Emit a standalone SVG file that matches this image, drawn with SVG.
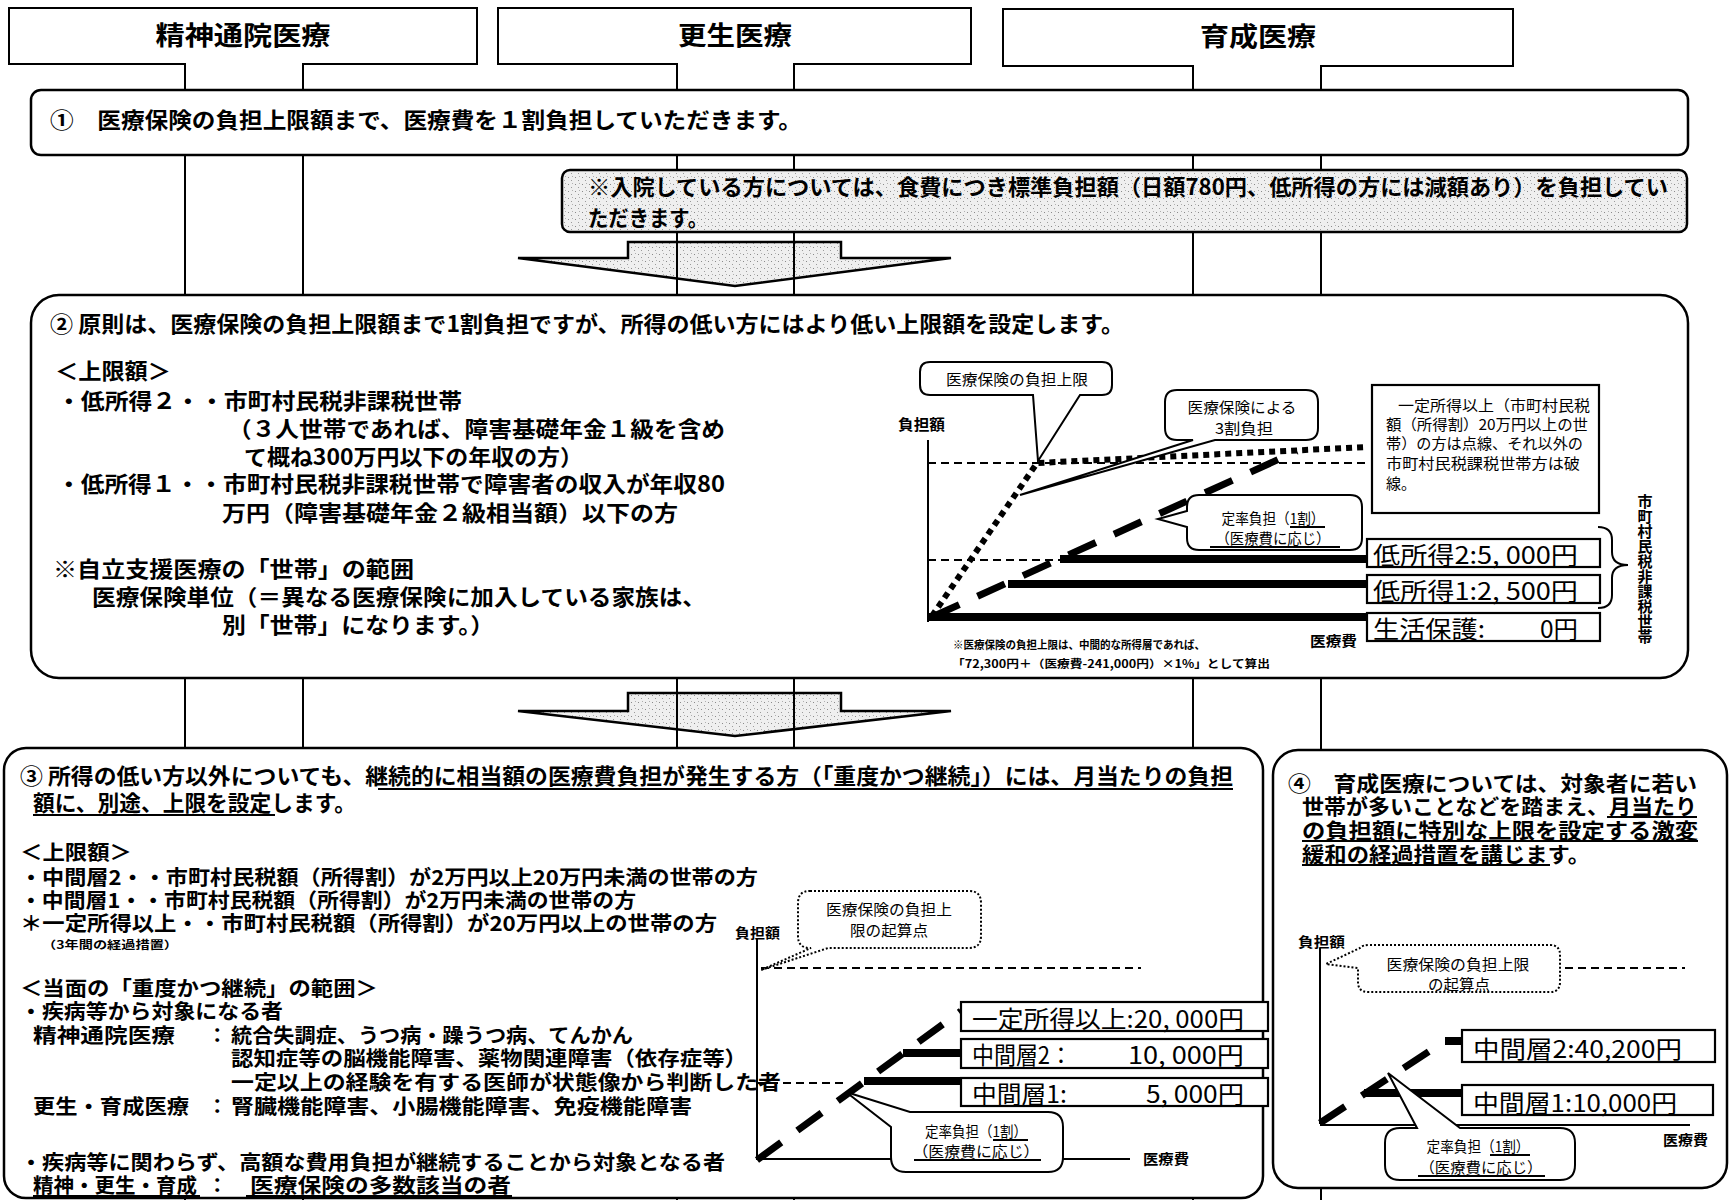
<svg xmlns="http://www.w3.org/2000/svg" width="1729" height="1200" viewBox="0 0 1729 1200">
<defs>
<style>
text{font-family:"Noto Sans CJK JP","Noto Sans CJK SC",sans-serif;fill:#000}
.h{font-size:26px;font-weight:700}
.t{font-size:22px;font-weight:700}
.m{font-size:22px;font-weight:700}
.n{font-size:20.5px;font-weight:700}
.q{font-size:21px;font-weight:700}
.s{font-size:15px;font-weight:400}
.sb{font-size:15px;font-weight:700}
.xs{font-size:11px;font-weight:700}
.lab{font-size:24px;font-weight:400}
.ax{font-size:14px;font-weight:700}
.box{fill:#fff;stroke:#000;stroke-width:2.5}
.lbox{fill:#fff;stroke:#000;stroke-width:2.2}
.ln{stroke:#000;stroke-width:2;fill:none}
.thin{stroke:#000;stroke-width:2;fill:none;stroke-dasharray:8 5}
.thick{stroke:#000;stroke-width:8;fill:none}
.dash{stroke:#000;stroke-width:7;fill:none;stroke-dasharray:30 20}
.dot{stroke:#000;stroke-width:6;fill:none;stroke-dasharray:6 5}
.call{fill:#fff;stroke:#000;stroke-width:2}
.dcall{fill:#fff;stroke:#000;stroke-width:2;stroke-dasharray:2 2}
.ul{stroke:#000;stroke-width:1.8}
.arrow{fill:url(#stip);stroke:#000;stroke-width:2.5}
</style>
<pattern id="stip" width="7" height="7" patternUnits="userSpaceOnUse">
<rect width="7" height="7" fill="#efefef"/>
<rect x="1" y="2" width="1" height="1" fill="#8a8a8a"/>
<rect x="4" y="5" width="1" height="1" fill="#9a9a9a"/>
<rect x="5" y="1" width="1" height="1" fill="#b0b0b0"/>
</pattern>
</defs>
<rect width="1729" height="1200" fill="#fff"/>

<g id="connectors">
<polygon class="arrow" points="628,242 841,242 841,258 951,258 735,286 518,258 628,258"/>
<polygon class="arrow" points="628,693 841,693 841,711 951,711 735,736 518,711 628,711"/>
</g>

<g id="header-seishin">
<path class="ln" d="M185,1200 V64 H9 V8 H477 V64 H303 V1200"/>
<text class="h" x="243" y="45" text-anchor="middle" textLength="175" lengthAdjust="spacingAndGlyphs">精神通院医療</text>
</g>
<g id="header-kousei">
<path class="ln" d="M677,1200 V64 H498 V8 H971 V64 H794 V1200"/>
<text class="h" x="735" y="45" text-anchor="middle" textLength="114" lengthAdjust="spacingAndGlyphs">更生医療</text>
</g>
<g id="header-ikusei">
<path class="ln" d="M1193,1200 V66 H1003 V9 H1513 V66 H1321 V1200"/>
<text class="h" x="1258" y="46" text-anchor="middle" textLength="116" lengthAdjust="spacingAndGlyphs">育成医療</text>
</g>

<g id="box1">
<rect class="box" x="31" y="90" width="1657" height="65" rx="10"/>
<text class="t" x="50" y="128" textLength="752" lengthAdjust="spacingAndGlyphs">①　医療保険の負担上限額まで、医療費を１割負担していただきます。</text>
</g>

<g id="note-nyuin">
<rect x="562" y="170" width="1125" height="62" rx="8" fill="url(#stip)" stroke="#000" stroke-width="2.5"/>
<text class="t" x="588" y="195" textLength="1080" lengthAdjust="spacingAndGlyphs">※入院している方については、食費につき標準負担額（日額780円、低所得の方には減額あり）を負担してい</text>
<text class="t" x="588" y="226" textLength="120" lengthAdjust="spacingAndGlyphs">ただきます。</text>
</g>

<g id="box2">
<rect class="box" x="31" y="295" width="1657" height="383" rx="28"/>
<text class="t" x="50" y="332" textLength="1074" lengthAdjust="spacingAndGlyphs">②  原則は、医療保険の負担上限額まで1割負担ですが、所得の低い方にはより低い上限額を設定します。</text>
<text class="m" x="55" y="379" textLength="116" lengthAdjust="spacingAndGlyphs">＜上限額＞</text>
<text class="m" x="57" y="409" textLength="405" lengthAdjust="spacingAndGlyphs">・低所得２・・市町村民税非課税世帯</text>
<text class="m" x="228" y="437" textLength="497" lengthAdjust="spacingAndGlyphs">（３人世帯であれば、障害基礎年金１級を含め</text>
<text class="m" x="244" y="465" textLength="339" lengthAdjust="spacingAndGlyphs">て概ね300万円以下の年収の方）</text>
<text class="m" x="57" y="492" textLength="668" lengthAdjust="spacingAndGlyphs">・低所得１・・市町村民税非課税世帯で障害者の収入が年収80</text>
<text class="m" x="222" y="521" textLength="456" lengthAdjust="spacingAndGlyphs">万円（障害基礎年金２級相当額）以下の方</text>
<text class="m" x="53" y="577" textLength="361" lengthAdjust="spacingAndGlyphs">※自立支援医療の「世帯」の範囲</text>
<text class="m" x="92" y="605" textLength="614" lengthAdjust="spacingAndGlyphs">医療保険単位（＝異なる医療保険に加入している家族は、</text>
<text class="m" x="222" y="633" textLength="272" lengthAdjust="spacingAndGlyphs">別「世帯」になります。）</text>
</g>

<g id="chart2">
<text class="sb" x="898" y="430" textLength="47" lengthAdjust="spacingAndGlyphs">負担額</text>
<line class="ln" x1="928" y1="440" x2="928" y2="622"/>
<line class="thin" x1="928" y1="463" x2="1370" y2="463"/>
<line class="thin" x1="928" y1="560" x2="1060" y2="560"/>
<polyline class="dot" points="932,616 1037,463 1367,447"/>
<line class="dash" x1="932" y1="617" x2="1297" y2="451"/>
<line class="thick" x1="1060" y1="559" x2="1367" y2="559"/>
<line class="thick" x1="1008" y1="584" x2="1367" y2="584"/>
<line class="thick" x1="928" y1="617" x2="1367" y2="617"/>
<text class="ax" x="1310" y="646" font-size="16" textLength="47" lengthAdjust="spacingAndGlyphs">医療費</text>
<text class="xs" x="953" y="649" font-weight="400" textLength="252" lengthAdjust="spacingAndGlyphs">※医療保険の負担上限は、中間的な所得層であれば、</text>
<text class="xs" x="952" y="668" font-weight="400" textLength="318" lengthAdjust="spacingAndGlyphs">「72,300円＋（医療費-241,000円）×1%」として算出</text>
</g>

<g id="callout-jougen">
<path class="call" d="M930,362 H1102 Q1112,362 1112,372 V385 Q1112,395 1102,395 H1080 L1038,461 L1033,395 H930 Q920,395 920,385 V372 Q920,362 930,362 Z"/>
<text class="s" x="1017" y="385" text-anchor="middle" textLength="142" lengthAdjust="spacingAndGlyphs">医療保険の負担上限</text>
</g>
<g id="callout-3wari">
<path class="call" d="M1177,390 H1306 Q1318,390 1318,402 V428 Q1318,440 1306,440 H1215 L1020,495 L1193,440 H1177 Q1165,440 1165,428 V402 Q1165,390 1177,390 Z"/>
<text class="s" x="1242" y="413" text-anchor="middle" font-size="14" textLength="109" lengthAdjust="spacingAndGlyphs">医療保険による</text>
<text class="s" x="1244" y="434" text-anchor="middle" font-size="14" textLength="58" lengthAdjust="spacingAndGlyphs">3割負担</text>
</g>
<g id="callout-teiritsu2">
<path class="call" d="M1199,495 H1350 Q1362,495 1362,507 V538 Q1362,550 1350,550 H1199 Q1187,550 1187,538 V527 L1158,519 L1187,511 V507 Q1187,495 1199,495 Z"/>
<text class="s" x="1273" y="524" text-anchor="middle" font-size="14" textLength="103" lengthAdjust="spacingAndGlyphs">定率負担（1割）</text>
<text class="s" x="1273" y="544" text-anchor="middle" font-size="14" textLength="115" lengthAdjust="spacingAndGlyphs">（医療費に応じ）</text>
<line class="ul" x1="1210" y1="547" x2="1340" y2="547"/>
<line class="ul" stroke-width="1" x1="1290" y1="527" x2="1325" y2="527"/>
</g>

<g id="note-tensen">
<rect class="lbox" x="1372" y="385" width="227" height="128"/>
<text class="s" x="1398" y="411" font-size="14.5" textLength="192" lengthAdjust="spacingAndGlyphs">一定所得以上（市町村民税</text>
<text class="s" x="1386" y="430" font-size="14.5" textLength="202" lengthAdjust="spacingAndGlyphs">額（所得割）20万円以上の世</text>
<text class="s" x="1386" y="449" font-size="14.5" textLength="197" lengthAdjust="spacingAndGlyphs">帯）の方は点線、それ以外の</text>
<text class="s" x="1386" y="469" font-size="14.5" textLength="194" lengthAdjust="spacingAndGlyphs">市町村民税課税世帯方は破</text>
<text class="s" x="1386" y="489" font-size="14.5" textLength="30" lengthAdjust="spacingAndGlyphs">線。</text>
</g>

<g id="label-tei2">
<rect class="lbox" x="1367" y="539" width="233" height="28"/>
<text class="lab" x="1373" y="564" textLength="205" lengthAdjust="spacingAndGlyphs">低所得2:5, 000円</text>
</g>
<g id="label-tei1">
<rect class="lbox" x="1367" y="575" width="233" height="28"/>
<text class="lab" x="1373" y="600" textLength="205" lengthAdjust="spacingAndGlyphs">低所得1:2, 500円</text>
</g>
<g id="label-seikatsu">
<rect class="lbox" x="1367" y="613" width="233" height="28"/>
<text class="lab" x="1373" y="638" textLength="112" lengthAdjust="spacingAndGlyphs">生活保護:</text>
<text class="lab" x="1540" y="638" textLength="38" lengthAdjust="spacingAndGlyphs">0円</text>
</g>
<g id="brace-hikazei">
<path class="ln" d="M1598,527 Q1612,527 1612,540 V552 Q1612,565 1628,565 Q1612,565 1612,578 V595 Q1612,608 1598,608"/>
<text class="sb" x="1645" y="494" style="writing-mode:vertical-rl" font-size="14.8">市町村民税非課税世帯</text>
</g>

<g id="box3">
<rect class="box" x="4" y="748" width="1259" height="450" rx="22"/>
<text class="m" x="20" y="784" textLength="1213" lengthAdjust="spacingAndGlyphs">③  所得の低い方以外についても、継続的に相当額の医療費負担が発生する方（「重度かつ継続」）には、月当たりの負担</text>
<line class="ul" x1="378" y1="789" x2="1233" y2="789"/>
<text class="m" x="33" y="811" textLength="323" lengthAdjust="spacingAndGlyphs">額に、別途、上限を設定します。</text>
<line class="ul" x1="33" y1="815" x2="275" y2="815"/>
<text class="n" x="20" y="860" textLength="112" lengthAdjust="spacingAndGlyphs">＜上限額＞</text>
<text class="n" x="20" y="885" textLength="738" lengthAdjust="spacingAndGlyphs">・中間層2・・市町村民税額（所得割）が2万円以上20万円未満の世帯の方</text>
<text class="n" x="20" y="908" textLength="616" lengthAdjust="spacingAndGlyphs">・中間層1・・市町村民税額（所得割）が2万円未満の世帯の方</text>
<text class="n" x="20" y="931" textLength="697" lengthAdjust="spacingAndGlyphs">＊一定所得以上・・市町村民税額（所得割）が20万円以上の世帯の方</text>
<text class="xs" x="42" y="949" font-size="10" textLength="136" lengthAdjust="spacingAndGlyphs">（3年間の経過措置）</text>
<text class="n" x="20" y="996" textLength="358" lengthAdjust="spacingAndGlyphs">＜当面の「重度かつ継続」の範囲＞</text>
<text class="n" x="20" y="1019" textLength="263" lengthAdjust="spacingAndGlyphs">・疾病等から対象になる者</text>
<text class="n" x="33" y="1043" textLength="142" lengthAdjust="spacingAndGlyphs">精神通院医療</text>
<text class="n" x="207" y="1043">：</text>
<text class="n" x="231" y="1043" textLength="402" lengthAdjust="spacingAndGlyphs">統合失調症、うつ病・躁うつ病、てんかん</text>
<text class="n" x="231" y="1066" textLength="516" lengthAdjust="spacingAndGlyphs">認知症等の脳機能障害、薬物関連障害（依存症等）</text>
<text class="n" x="231" y="1090" textLength="550" lengthAdjust="spacingAndGlyphs">一定以上の経験を有する医師が状態像から判断した者</text>
<text class="n" x="33" y="1114" textLength="156" lengthAdjust="spacingAndGlyphs">更生・育成医療</text>
<text class="n" x="207" y="1114">：</text>
<text class="n" x="231" y="1114" textLength="461" lengthAdjust="spacingAndGlyphs">腎臓機能障害、小腸機能障害、免疫機能障害</text>
<text class="n" x="20" y="1170" textLength="705" lengthAdjust="spacingAndGlyphs">・疾病等に関わらず、高額な費用負担が継続することから対象となる者</text>
<text class="n" x="33" y="1193" textLength="164" lengthAdjust="spacingAndGlyphs">精神・更生・育成</text>
<text class="n" x="207" y="1193">：</text>
<text class="n" x="250" y="1193" textLength="261" lengthAdjust="spacingAndGlyphs">医療保険の多数該当の者</text>
<line class="ul" x1="33" y1="1196" x2="200" y2="1196"/>
<line class="ul" x1="246" y1="1196" x2="512" y2="1196"/>
</g>

<g id="chart3">
<text class="ax" x="735" y="938" textLength="45" lengthAdjust="spacingAndGlyphs">負担額</text>
<line class="ln" x1="757" y1="938" x2="757" y2="1160"/>
<line class="ln" x1="757" y1="1159" x2="1130" y2="1159"/>
<text class="ax" x="1143" y="1164" textLength="46" lengthAdjust="spacingAndGlyphs">医療費</text>
<line class="thin" x1="761" y1="968" x2="1141" y2="968" stroke-width="2.5" stroke-dasharray="10 6"/>
<line class="thin" x1="757" y1="1083" x2="846" y2="1083"/>
<line class="dash" x1="757" y1="1160" x2="961" y2="1011"/>
<line class="thick" x1="864" y1="1081" x2="961" y2="1081"/>
<line class="thick" x1="903" y1="1053" x2="961" y2="1053"/>
</g>
<g id="callout-kisanten3">
<path class="dcall" d="M810,891 H969 Q981,891 981,903 V936 Q981,948 969,948 H828 L761,970 L811,948 H810 Q798,948 798,936 V903 Q798,891 810,891 Z"/>
<text class="s" x="889" y="915" font-size="13.5" text-anchor="middle" textLength="126" lengthAdjust="spacingAndGlyphs">医療保険の負担上</text>
<text class="s" x="889" y="936" font-size="13.5" text-anchor="middle" textLength="78" lengthAdjust="spacingAndGlyphs">限の起算点</text>
</g>
<g id="label-ittei">
<rect class="lbox" x="961" y="1002" width="307" height="29"/>
<text class="lab" x="972" y="1028" textLength="272" lengthAdjust="spacingAndGlyphs">一定所得以上:20, 000円</text>
</g>
<g id="label-chukan2">
<rect class="lbox" x="961" y="1039" width="307" height="29"/>
<text class="lab" x="972" y="1064" textLength="100" lengthAdjust="spacingAndGlyphs">中間層2：</text>
<text class="lab" x="1128" y="1064" textLength="116" lengthAdjust="spacingAndGlyphs">10, 000円</text>
</g>
<g id="label-chukan1">
<rect class="lbox" x="961" y="1078" width="307" height="28"/>
<text class="lab" x="972" y="1103" textLength="95" lengthAdjust="spacingAndGlyphs">中間層1:</text>
<text class="lab" x="1146" y="1103" textLength="98" lengthAdjust="spacingAndGlyphs">5, 000円</text>
</g>
<g id="callout-teiritsu3">
<path class="call" d="M910,1112 H1048 Q1063,1112 1063,1127 V1157 Q1063,1172 1048,1172 H906 Q891,1172 891,1157 V1127 L846,1092 Z"/>
<text class="s" x="976" y="1137" font-size="13.5" text-anchor="middle" textLength="102" lengthAdjust="spacingAndGlyphs">定率負担（1割）</text>
<text class="s" x="976" y="1157" font-size="13.5" text-anchor="middle" textLength="127" lengthAdjust="spacingAndGlyphs">（医療費に応じ）</text>
<line class="ul" x1="914" y1="1160" x2="1041" y2="1160"/>
<line class="ul" stroke-width="1" x1="993" y1="1140" x2="1028" y2="1140"/>
</g>

<g id="box4">
<rect class="box" x="1273" y="750" width="454" height="438" rx="25"/>
<text class="q" x="1288" y="791" textLength="409" lengthAdjust="spacingAndGlyphs">④　育成医療については、対象者に若い</text>
<text class="q" x="1302" y="814" textLength="395" lengthAdjust="spacingAndGlyphs">世帯が多いことなどを踏まえ、月当たり</text>
<text class="q" x="1302" y="838" textLength="396" lengthAdjust="spacingAndGlyphs">の負担額に特別な上限を設定する激変</text>
<text class="q" x="1302" y="862" textLength="288" lengthAdjust="spacingAndGlyphs">緩和の経過措置を講じます。</text>
<line class="ul" x1="1607" y1="817" x2="1697" y2="817"/>
<line class="ul" x1="1302" y1="841" x2="1698" y2="841"/>
<line class="ul" x1="1302" y1="865" x2="1550" y2="865"/>
</g>

<g id="chart4">
<text class="ax" x="1298" y="947" textLength="47" lengthAdjust="spacingAndGlyphs">負担額</text>
<line class="ln" x1="1320" y1="948" x2="1320" y2="1124"/>
<line class="ln" x1="1320" y1="1125" x2="1690" y2="1125"/>
<text class="ax" x="1663" y="1145" textLength="45" lengthAdjust="spacingAndGlyphs">医療費</text>
<line class="thin" x1="1565" y1="968" x2="1685" y2="968" stroke-width="2.5" stroke-dasharray="10 6"/>
<line class="dash" x1="1320" y1="1123" x2="1445" y2="1041" stroke-dasharray="32 18"/>
<line class="thick" x1="1445" y1="1041" x2="1462" y2="1041"/>
<line class="thick" x1="1364" y1="1093" x2="1462" y2="1093"/>
</g>
<g id="callout-kisanten4">
<path class="dcall" d="M1370,945 H1550 Q1560,945 1560,955 V982 Q1560,992 1550,992 H1368 Q1358,992 1358,982 V968 L1326,964 L1360,948 Q1362,945 1370,945 Z"/>
<text class="s" x="1458" y="970" font-size="14" text-anchor="middle" textLength="143" lengthAdjust="spacingAndGlyphs">医療保険の負担上限</text>
<text class="s" x="1459" y="990" font-size="14" text-anchor="middle" textLength="62" lengthAdjust="spacingAndGlyphs">の起算点</text>
</g>
<g id="label-chukan2-ik">
<rect class="lbox" x="1462" y="1030" width="253" height="32"/>
<text class="lab" x="1473" y="1058" textLength="209" lengthAdjust="spacingAndGlyphs">中間層2:40,200円</text>
</g>
<g id="label-chukan1-ik">
<rect class="lbox" x="1462" y="1085" width="251" height="30"/>
<text class="lab" x="1473" y="1112" textLength="204" lengthAdjust="spacingAndGlyphs">中間層1:10,000円</text>
</g>
<g id="callout-teiritsu4">
<path class="call" d="M1400,1128 H1417 L1388,1073 L1460,1128 H1560 Q1575,1128 1575,1143 V1165 Q1575,1180 1560,1180 H1400 Q1385,1180 1385,1165 V1143 Q1385,1128 1400,1128 Z"/>
<text class="s" x="1478" y="1152" font-size="14" text-anchor="middle" textLength="103" lengthAdjust="spacingAndGlyphs">定率負担（1割）</text>
<text class="s" x="1481" y="1173" font-size="14" text-anchor="middle" textLength="123" lengthAdjust="spacingAndGlyphs">（医療費に応じ）</text>
<line class="ul" x1="1418" y1="1176" x2="1545" y2="1176"/>
<line class="ul" stroke-width="1" x1="1490" y1="1155" x2="1530" y2="1155"/>
</g>
</svg>
